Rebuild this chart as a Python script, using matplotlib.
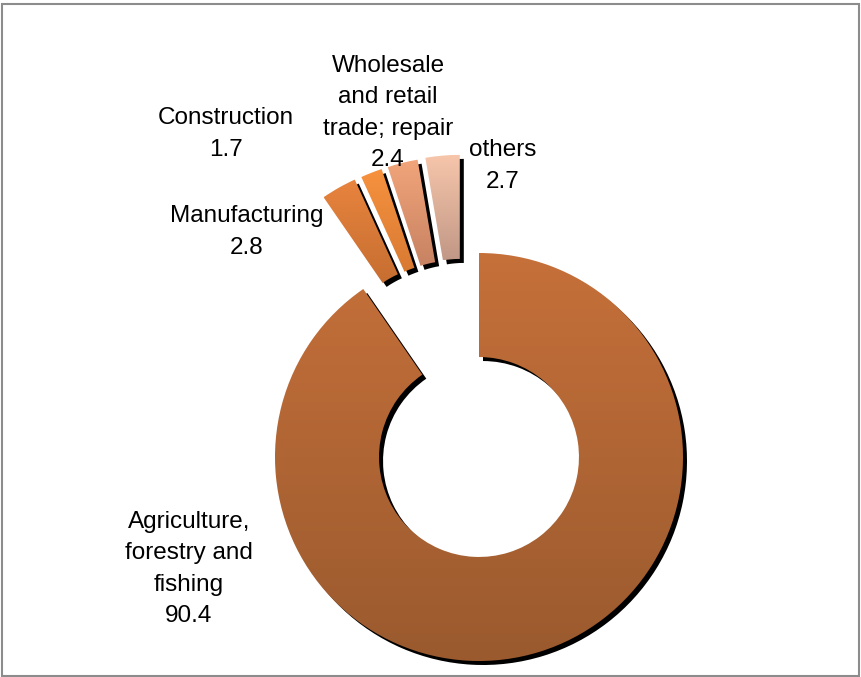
import numpy as np
import matplotlib
matplotlib.use('Agg')
import matplotlib.pyplot as plt
from matplotlib.patches import PathPatch, Rectangle
from matplotlib.colors import LinearSegmentedColormap
import matplotlib.transforms as mtransforms

# ---- data ----
categories = ['Agriculture,\nforestry and\nfishing', 'Manufacturing', 'Construction',
              'Wholesale\nand retail\ntrade; repair', 'others']
values = [90.4, 2.8, 1.7, 2.4, 2.7]
value_labels = ['90.4', '2.8', '1.7', '2.4', '2.7']

# ---- style ----
top_colors = ['#C6703A', '#E8843E', '#F6923F', '#F2A57A', '#F7C6AB']
bottom_colors = ['#9A5A2E', '#C66E31', '#D97A33', '#C78262', '#C19886']
label_pos_px = [(189, 569), (247, 232), (226, 134), (388, 113), (503, 166)]

W, H = 862, 677
fig = plt.figure(figsize=(W / 100, H / 100), dpi=100)
fig.patch.set_facecolor('white')
ax = fig.add_axes([0, 0, 1, 1])
cx, cy, R = 479, 220, 204

wedges, _ = ax.pie(values, startangle=90, counterclock=False, radius=1,
                   wedgeprops=dict(width=0.51, linewidth=0))

# explode the small slices (spread toward the group's mean direction)
small = wedges[1:]
lo = min(w.theta1 for w in small)
hi = max(w.theta2 for w in small)
mid = (lo + hi) / 2
for w in small:
    bis = (w.theta1 + w.theta2) / 2
    phi = np.deg2rad(mid + 0.5 * (bis - mid))
    w.set_center((0.49 * np.cos(phi), 0.49 * np.sin(phi)))

shadow_tr = mtransforms.offset_copy(ax.transData, fig=fig, x=4, y=-4, units='dots')
grad = np.linspace(0, 1, 256).reshape(-1, 1)
for w, ct, cb in zip(wedges, top_colors, bottom_colors):
    path = w.get_path()
    sp = PathPatch(path, transform=shadow_tr, facecolor='black', edgecolor='none', zorder=1)
    ax.add_patch(sp)
    ext = path.get_extents()
    cmap = LinearSegmentedColormap.from_list('g', [cb, ct])
    im = ax.imshow(grad, cmap=cmap, origin='lower', extent=[ext.x0, ext.x1, ext.y0, ext.y1],
                   aspect='auto', zorder=2, interpolation='bilinear')
    im.set_clip_path(w)
    w.set_facecolor('none')
    w.set_edgecolor('none')
    w.set_zorder(3)

ax.set_aspect('auto')
ax.set_xlim(-cx / R, (W - cx) / R)
ax.set_ylim(-cy / R, (H - cy) / R)
ax.axis('off')

for cat, val, (px, py) in zip(categories, value_labels, label_pos_px):
    fig.text(px / W, 1 - py / H, cat + '\n' + val, ha='center', va='center',
             fontsize=17.5, family=['Liberation Sans', 'DejaVu Sans'],
             color='black', linespacing=1.55)

fig.add_artist(Rectangle((2 / W, 1 - 676 / H), (859 - 2) / W, (676 - 4) / H,
                         transform=fig.transFigure, fill=False, edgecolor='#8C8C8C', lw=1.5))

fig.savefig('out.png', dpi=100, facecolor='white')
